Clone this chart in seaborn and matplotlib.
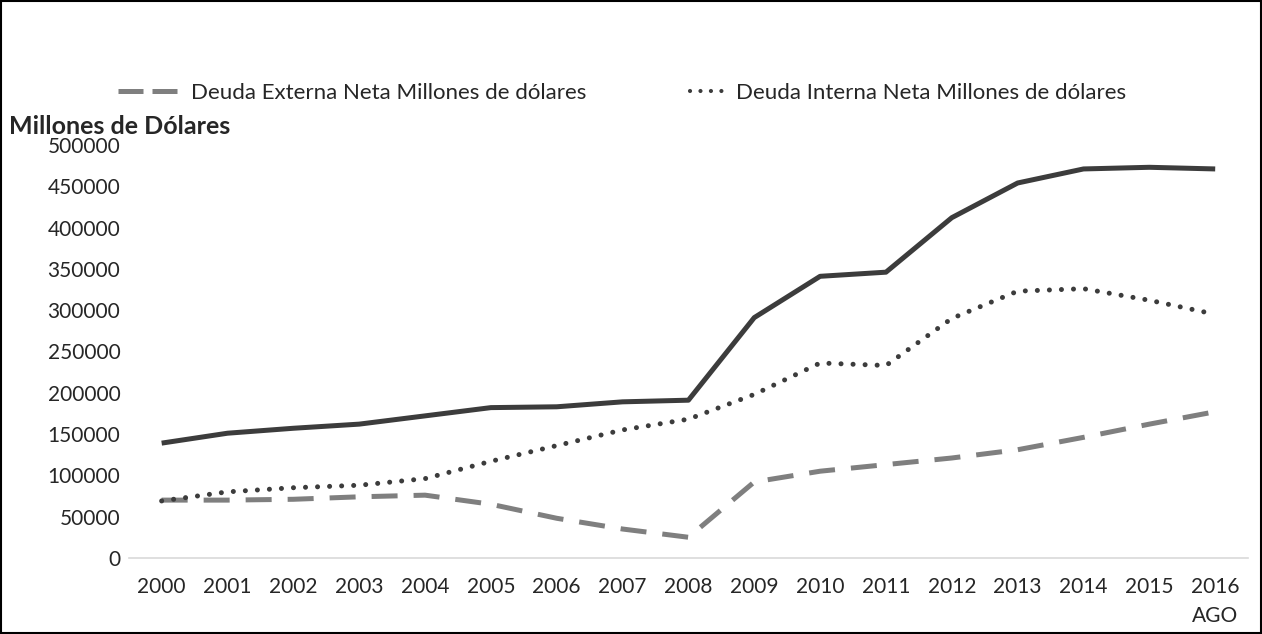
import pandas as pd
import matplotlib.pyplot as plt
import seaborn as sns
from matplotlib.lines import Line2D

# Data
years = list(range(2000, 2017))
year_labels = [str(y) for y in years[:-1]] + ['2016\nAGO']
deuda_externa = [70000, 70000, 71000, 74000, 76000, 65000, 48000, 35000, 25000,
                 92000, 105000, 113000, 121000, 131000, 146000, 162000, 177000]
deuda_interna = [69000, 80000, 85000, 88000, 96000, 117000, 136000, 155000, 168000,
                 198000, 236000, 233000, 290000, 323000, 326000, 312000, 295000]
deuda_total = [139000, 151000, 157000, 162000, 172000, 182000, 183000, 189000, 191000,
               291000, 341000, 346000, 412000, 454000, 471000, 473000, 471000]

df = pd.DataFrame({'anio': years, 'externa': deuda_externa,
                   'interna': deuda_interna, 'total': deuda_total})

sns.set_theme(style='white')
plt.rcParams['font.family'] = ['Lato', 'DejaVu Sans']

fig = plt.figure(figsize=(12.62, 6.34), dpi=100)
ax = fig.add_axes([0.102, 0.12, 0.887, 0.6513])

dark = '#3c3c3c'
gris = '#7f7f7f'
dash_style = (0, (5.2, 3.2))
dot_style = (0, (0.01, 2.4))

sns.lineplot(data=df, x='anio', y='total', ax=ax, color=dark, linewidth=3.6,
             solid_capstyle='butt')
sns.lineplot(data=df, x='anio', y='externa', ax=ax, color=gris, linewidth=3.6)
sns.lineplot(data=df, x='anio', y='interna', ax=ax, color=dark, linewidth=3.6)

lines = ax.get_lines()
lines[1].set_linestyle(dash_style)
lines[1].set_dash_capstyle('butt')
lines[2].set_linestyle(dot_style)
lines[2].set_dash_capstyle('round')

ax.set_xlim(years[0] - 0.5, years[-1] + 0.5)
ax.set_ylim(0, 500000)
ax.set_xticks(years)
ax.set_xticklabels(year_labels, fontsize=15, linespacing=1.55)
ax.set_yticks(range(0, 500001, 50000))
ax.set_yticklabels([str(v) for v in range(0, 500001, 50000)], fontsize=15)
ax.tick_params(axis='both', length=0, pad=6)
ax.tick_params(axis='x', pad=14)
ax.set_xlabel('')
ax.set_ylabel('')
for s in ['top', 'right', 'left']:
    ax.spines[s].set_visible(False)
ax.spines['bottom'].set_color('#d9d9d9')
ax.spines['bottom'].set_linewidth(1.2)

# Legend (the total line is not listed)
h_ext = Line2D([], [], color=gris, linewidth=3.6, linestyle=(0, (5.0, 1.8)),
               dash_capstyle='butt')
h_int = Line2D([], [], color=dark, linewidth=3.0, linestyle=(0, (0.01, 2.5)),
               dash_capstyle='round')
fig.legend([h_ext], ['Deuda Externa Neta Millones de dólares'], loc='center left',
           bbox_to_anchor=(118 / 1262, 1 - 93 / 634), frameon=False, fontsize=16,
           handlelength=3.0, handletextpad=0.3, borderpad=0, borderaxespad=0)
fig.legend([h_int], ['Deuda Interna Neta Millones de dólares'], loc='center left',
           bbox_to_anchor=(690 / 1262, 1 - 93 / 634), frameon=False, fontsize=16,
           handlelength=1.75, handletextpad=0.3, borderpad=0, borderaxespad=0)

fig.text(9 / 1262, 1 - 126 / 634, 'Millones de Dólares', fontsize=18,
         fontweight='bold', va='center', ha='left')

# Border around the whole figure
fig.patches.append(plt.Rectangle((0.001, 0.002), 0.998, 0.996, transform=fig.transFigure,
                                 fill=False, edgecolor='black', linewidth=1.5))

fig.savefig('out.png', dpi=100)
